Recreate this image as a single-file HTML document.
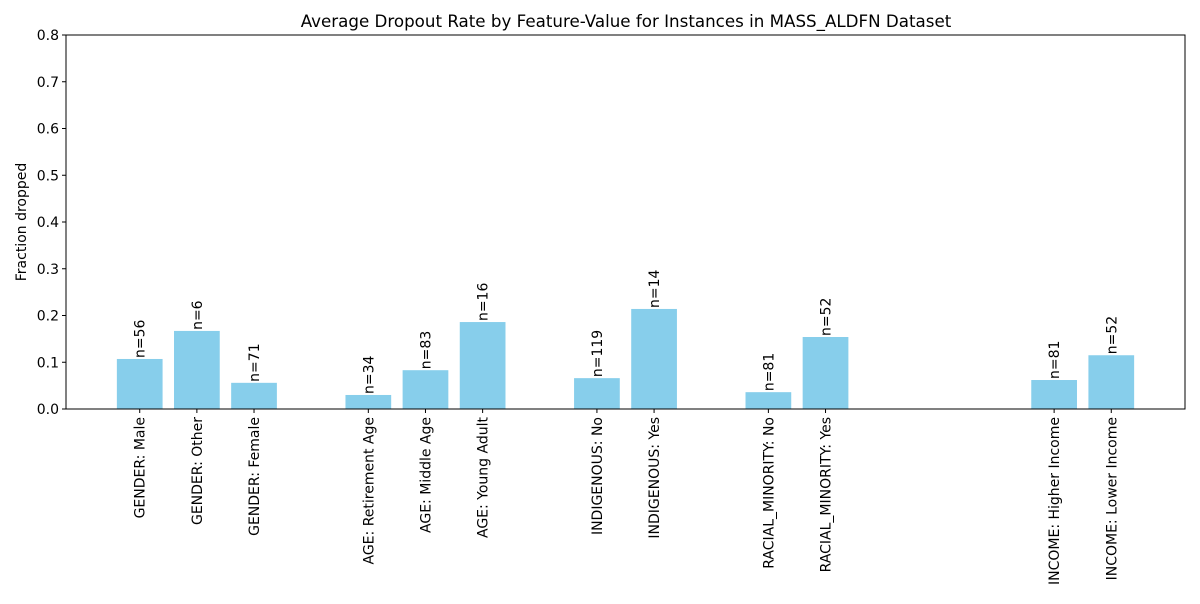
<!DOCTYPE html>
<html><head><meta charset="utf-8"><style>
body{margin:0;background:#fff;font-family:"DejaVu Sans","Liberation Sans",sans-serif}
</style></head><body>
<svg id="chart" width="1200" height="600" xmlns="http://www.w3.org/2000/svg" font-family="DejaVu Sans, Liberation Sans, sans-serif">
<rect width="1200" height="600" fill="#fff"/>
<text x="626" y="27" text-anchor="middle" font-size="16.7">Average Dropout Rate by Feature-Value for Instances in MASS_ALDFN Dataset</text>
<text transform="translate(26,222) rotate(-90)" text-anchor="middle" font-size="14">Fraction dropped</text>
<g id="yticks"></g><g id="bars"></g><g id="xticks"></g>
<rect x="66" y="35" width="1119" height="374" fill="none" stroke="#000" stroke-width="1"/>
</svg>
<script>
const categories=["GENDER: Male","GENDER: Other","GENDER: Female","AGE: Retirement Age","AGE: Middle Age","AGE: Young Adult","INDIGENOUS: No","INDIGENOUS: Yes","RACIAL_MINORITY: No","RACIAL_MINORITY: Yes","INCOME: Higher Income","INCOME: Lower Income"];
const slots=[0,1,2,4,5,6,8,9,11,12,16,17];
const values=[0.107,0.167,0.056,0.030,0.083,0.186,0.066,0.214,0.036,0.154,0.062,0.115];
const counts=[56,6,71,34,83,16,119,14,81,52,81,52];
const yTicks=[0,0.1,0.2,0.3,0.4,0.5,0.6,0.7,0.8];
const NS="http://www.w3.org/2000/svg";
const L=66,R=1185,T=35,B=409;
const xmin=-1.29,xmax=18.29;
const x=v=>L+(v-xmin)/(xmax-xmin)*(R-L);
const y=v=>B-v/0.8*(B-T);
const unit=(R-L)/(xmax-xmin);
function mk(tag,attrs,parent){const e=document.createElementNS(NS,tag);for(const k in attrs)e.setAttribute(k,attrs[k]);parent.appendChild(e);return e;}
const yg=document.getElementById('yticks');
yTicks.forEach(t=>{
 const l=mk('line',{x1:L-4,x2:L,y1:y(t),y2:y(t),stroke:'#000'},yg);
 
 
 const tx=mk('text',{x:L-7,y:y(t)+5,'text-anchor':'end','font-size':14},yg);
 tx.textContent=t.toFixed(1);
 
 
});
const bg=document.getElementById('bars'),xg=document.getElementById('xticks');
categories.forEach((c,i)=>{
 const cx=x(slots[i]),w=unit*0.8;
 const r=mk('rect',{x:cx-w/2,y:y(values[i]),width:w,height:B-y(values[i]),fill:'#87ceeb'},bg);
 
 
 const n=mk('text',{transform:`translate(${cx+5},${y(values[i])-1}) rotate(-90)`,'font-size':14},bg);
 n.textContent='n='+counts[i];
 
 
 const tk=mk('line',{x1:cx,x2:cx,y1:B,y2:B+4,stroke:'#000'},xg);
 
 
 const lb=mk('text',{transform:`translate(${cx+5},${B+8}) rotate(-90)`,'text-anchor':'end','font-size':14},xg);
 lb.textContent=c;
 
 
});
</script>
</body></html>
